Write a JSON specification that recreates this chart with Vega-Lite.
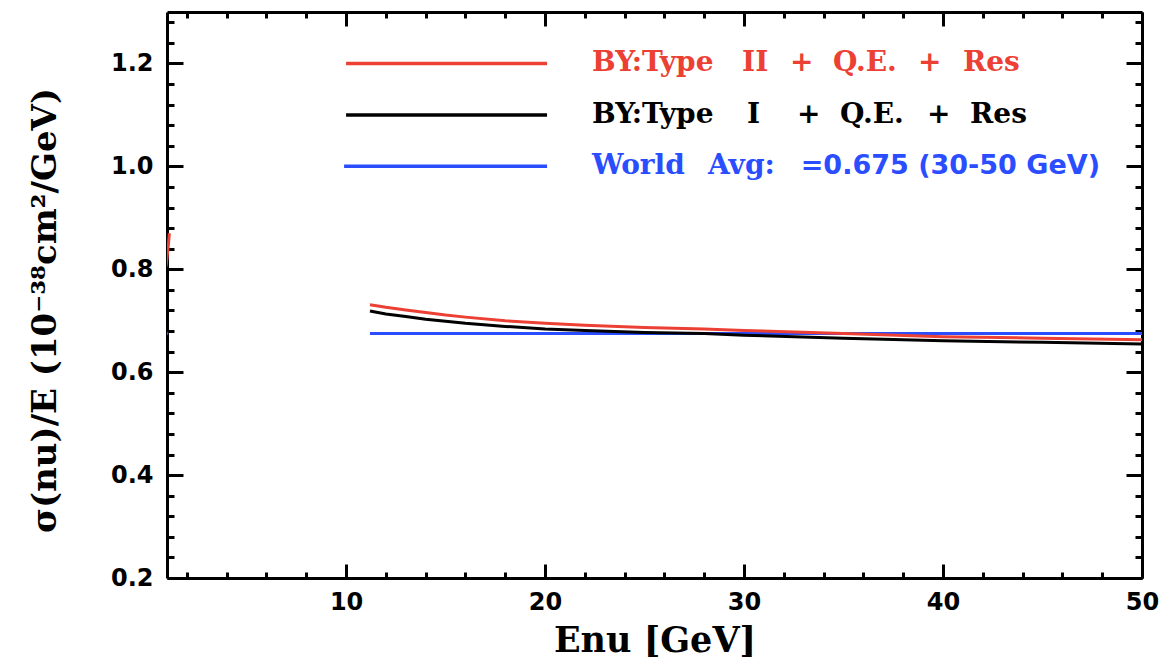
{
  "$schema": "https://vega.github.io/schema/vega-lite/v6.json",
  "width": 975,
  "height": 566,
  "autosize": "none",
  "padding": {"left": 167, "top": 12, "right": 21, "bottom": 84},
  "background": "white",
  "config": {"view": {"stroke": null}},
  "datasets": {
    "curves": [
      {"series": "world", "seg": "w0", "E": 1.0, "val": 0.675},
      {"series": "world", "seg": "w0", "E": 1.06, "val": 0.675},
      {"series": "world", "seg": "w1", "E": 11.2, "val": 0.675},
      {"series": "world", "seg": "w1", "E": 50, "val": 0.675},
      {"series": "typeI", "seg": "b1", "E": 11.2, "val": 0.719},
      {"series": "typeI", "seg": "b1", "E": 12, "val": 0.713},
      {"series": "typeI", "seg": "b1", "E": 13, "val": 0.708},
      {"series": "typeI", "seg": "b1", "E": 14, "val": 0.703},
      {"series": "typeI", "seg": "b1", "E": 15, "val": 0.699},
      {"series": "typeI", "seg": "b1", "E": 16, "val": 0.695},
      {"series": "typeI", "seg": "b1", "E": 18, "val": 0.689},
      {"series": "typeI", "seg": "b1", "E": 20, "val": 0.684},
      {"series": "typeI", "seg": "b1", "E": 22, "val": 0.681},
      {"series": "typeI", "seg": "b1", "E": 25, "val": 0.677},
      {"series": "typeI", "seg": "b1", "E": 28, "val": 0.675},
      {"series": "typeI", "seg": "b1", "E": 30, "val": 0.672},
      {"series": "typeI", "seg": "b1", "E": 35, "val": 0.666},
      {"series": "typeI", "seg": "b1", "E": 40, "val": 0.661},
      {"series": "typeI", "seg": "b1", "E": 45, "val": 0.658},
      {"series": "typeI", "seg": "b1", "E": 50, "val": 0.655},
      {"series": "typeII", "seg": "r0", "E": 0.95, "val": 0.805},
      {"series": "typeII", "seg": "r0", "E": 1.05, "val": 0.84},
      {"series": "typeII", "seg": "r0", "E": 1.12, "val": 0.87},
      {"series": "typeII", "seg": "r1", "E": 11.2, "val": 0.731},
      {"series": "typeII", "seg": "r1", "E": 12, "val": 0.726},
      {"series": "typeII", "seg": "r1", "E": 13, "val": 0.721},
      {"series": "typeII", "seg": "r1", "E": 14, "val": 0.716},
      {"series": "typeII", "seg": "r1", "E": 15, "val": 0.711},
      {"series": "typeII", "seg": "r1", "E": 16, "val": 0.707},
      {"series": "typeII", "seg": "r1", "E": 18, "val": 0.700},
      {"series": "typeII", "seg": "r1", "E": 20, "val": 0.695},
      {"series": "typeII", "seg": "r1", "E": 22, "val": 0.691},
      {"series": "typeII", "seg": "r1", "E": 25, "val": 0.687},
      {"series": "typeII", "seg": "r1", "E": 28, "val": 0.684},
      {"series": "typeII", "seg": "r1", "E": 30, "val": 0.681},
      {"series": "typeII", "seg": "r1", "E": 35, "val": 0.675},
      {"series": "typeII", "seg": "r1", "E": 40, "val": 0.669},
      {"series": "typeII", "seg": "r1", "E": 45, "val": 0.666},
      {"series": "typeII", "seg": "r1", "E": 50, "val": 0.663}
    ],
    "legendlines": [
      {"series": "typeII", "E": 10.0, "val": 1.2},
      {"series": "typeII", "E": 20.1, "val": 1.2},
      {"series": "typeI", "E": 10.0, "val": 1.1},
      {"series": "typeI", "E": 20.1, "val": 1.1},
      {"series": "world", "E": 9.9, "val": 1.0},
      {"series": "world", "E": 20.1, "val": 1.0}
    ],
    "legendtext": [
      {"series": "typeII", "part": "name", "E": 22.36, "val": 1.2, "text": "BY:Type"},
      {"series": "typeII", "part": "name", "E": 29.9, "val": 1.2, "text": "II"},
      {"series": "typeII", "part": "name", "E": 32.31, "val": 1.2, "text": "+"},
      {"series": "typeII", "part": "name", "E": 34.47, "val": 1.2, "text": "Q.E."},
      {"series": "typeII", "part": "name", "E": 38.74, "val": 1.2, "text": "+"},
      {"series": "typeII", "part": "name", "E": 41.0, "val": 1.2, "text": "Res"},
      {"series": "typeI", "part": "name", "E": 22.36, "val": 1.1, "text": "BY:Type"},
      {"series": "typeI", "part": "name", "E": 30.15, "val": 1.1, "text": "I"},
      {"series": "typeI", "part": "name", "E": 32.66, "val": 1.1, "text": "+"},
      {"series": "typeI", "part": "name", "E": 34.82, "val": 1.1, "text": "Q.E."},
      {"series": "typeI", "part": "name", "E": 39.2, "val": 1.1, "text": "+"},
      {"series": "typeI", "part": "name", "E": 41.36, "val": 1.1, "text": "Res"},
      {"series": "world", "part": "name", "E": 22.36, "val": 1.0, "text": "World"},
      {"series": "world", "part": "name", "E": 28.19, "val": 1.0, "text": "Avg:"},
      {"series": "world", "part": "value", "E": 32.85, "val": 1.0, "text": "=0.675 (30-50 GeV)"}
    ]
  },
  "resolve": {"axis": {"x": "independent", "y": "independent"}},
  "layer": [
    {
      "data": {"name": "curves"},
      "mark": {"type": "line", "clip": true, "strokeWidth": 3},
      "encoding": {
        "x": {
          "field": "E", "type": "quantitative",
          "scale": {"domain": [1, 50], "nice": false, "zero": false},
          "axis": {
            "orient": "bottom",
            "values": [2,4,6,8,10,12,14,16,18,20,22,24,26,28,30,32,34,36,38,40,42,44,46,48,50],
            "labelExpr": "datum.value % 10 === 0 ? datum.label : ''",
            "tickSize": {"condition": {"test": "datum.value % 10 === 0", "value": -14}, "value": -6},
            "tickWidth": 3, "tickColor": "black",
            "domainColor": "black", "domainWidth": 3,
            "grid": false,
            "labelFont": "DejaVu Sans", "labelFontWeight": "bold", "labelFontSize": 24, "labelColor": "black",
            "labelPadding": 26, "labelFlush": false, "labelOverlap": false,
            "title": "Enu [GeV]",
            "titleFont": "DejaVu Serif", "titleFontWeight": "bold", "titleFontSize": 35, "titleColor": "black",
            "titlePadding": 1
          }
        },
        "y": {
          "field": "val", "type": "quantitative",
          "scale": {"domain": [0.2, 1.3], "nice": false, "zero": false},
          "axis": {
            "orient": "left",
            "values": [0.2,0.24,0.28,0.32,0.36,0.4,0.44,0.48,0.52,0.56,0.6,0.64,0.68,0.72,0.76,0.8,0.84,0.88,0.92,0.96,1.0,1.04,1.08,1.12,1.16,1.2,1.24,1.28],
            "format": ".1f",
            "labelExpr": "abs(datum.value*5 - round(datum.value*5)) < 0.001 ? datum.label : ''",
            "tickSize": {"condition": {"test": "abs(datum.value*5 - round(datum.value*5)) < 0.001", "value": -16}, "value": -7},
            "tickWidth": 3, "tickColor": "black",
            "domainColor": "black", "domainWidth": 3,
            "grid": false,
            "labelFont": "DejaVu Sans", "labelFontWeight": "bold", "labelFontSize": 24, "labelColor": "black",
            "labelPadding": 30, "labelFlush": false, "labelOverlap": false,
            "title": "σ(nu)/E (10⁻³⁸cm²/GeV)",
            "titleFont": "DejaVu Serif", "titleFontWeight": "bold", "titleFontSize": 34, "titleColor": "black",
            "titlePadding": 48,
            "titleY": 298
          }
        },
        "color": {
          "field": "series", "type": "nominal",
          "scale": {"domain": ["typeII", "typeI", "world"], "range": ["#ec4034", "#000000", "#2a4dff"]},
          "legend": null
        },
        "strokeWidth": {
          "field": "series", "type": "nominal",
          "scale": {"domain": ["typeII", "typeI", "world"], "range": [3.5, 3.5, 2]},
          "legend": null
        },
        "detail": {"field": "seg"},
        "order": {"field": "E"}
      }
    },
    {
      "data": {"name": "legendlines"},
      "mark": {"type": "line"},
      "encoding": {
        "x": {
          "field": "E", "type": "quantitative",
          "axis": {
            "orient": "top",
            "values": [2,4,6,8,10,12,14,16,18,20,22,24,26,28,30,32,34,36,38,40,42,44,46,48,50],
            "labels": false,
            "tickSize": {"condition": {"test": "datum.value % 10 === 0", "value": -14}, "value": -6},
            "tickWidth": 3, "tickColor": "black",
            "domainColor": "black", "domainWidth": 3,
            "grid": false, "title": null
          }
        },
        "y": {
          "field": "val", "type": "quantitative",
          "axis": {
            "orient": "right",
            "values": [0.2,0.24,0.28,0.32,0.36,0.4,0.44,0.48,0.52,0.56,0.6,0.64,0.68,0.72,0.76,0.8,0.84,0.88,0.92,0.96,1.0,1.04,1.08,1.12,1.16,1.2,1.24,1.28],
            "labels": false,
            "tickSize": {"condition": {"test": "abs(datum.value*5 - round(datum.value*5)) < 0.001", "value": -16}, "value": -7},
            "tickWidth": 3, "tickColor": "black",
            "domainColor": "black", "domainWidth": 3,
            "grid": false, "title": null
          }
        },
        "color": {"field": "series", "type": "nominal", "legend": null},
        "strokeWidth": {
          "field": "series", "type": "nominal",
          "scale": {"domain": ["typeII", "typeI", "world"], "range": [3, 3, 4]},
          "legend": null
        }
      }
    },
    {
      "data": {"name": "legendtext"},
      "transform": [{"filter": "datum.part === 'name'"}],
      "mark": {"type": "text", "align": "left", "baseline": "middle", "font": "DejaVu Serif", "fontWeight": "bold", "fontSize": 28},
      "encoding": {
        "x": {"field": "E", "type": "quantitative", "axis": null},
        "y": {"field": "val", "type": "quantitative", "axis": null},
        "text": {"field": "text"},
        "color": {"field": "series", "type": "nominal", "legend": null}
      }
    },
    {
      "data": {"name": "legendtext"},
      "transform": [{"filter": "datum.part === 'value'"}],
      "mark": {"type": "text", "align": "left", "baseline": "middle", "font": "DejaVu Sans", "fontWeight": "bold", "fontSize": 27},
      "encoding": {
        "x": {"field": "E", "type": "quantitative", "axis": null},
        "y": {"field": "val", "type": "quantitative", "axis": null},
        "text": {"field": "text"},
        "color": {"field": "series", "type": "nominal", "legend": null}
      }
    }
  ]
}
